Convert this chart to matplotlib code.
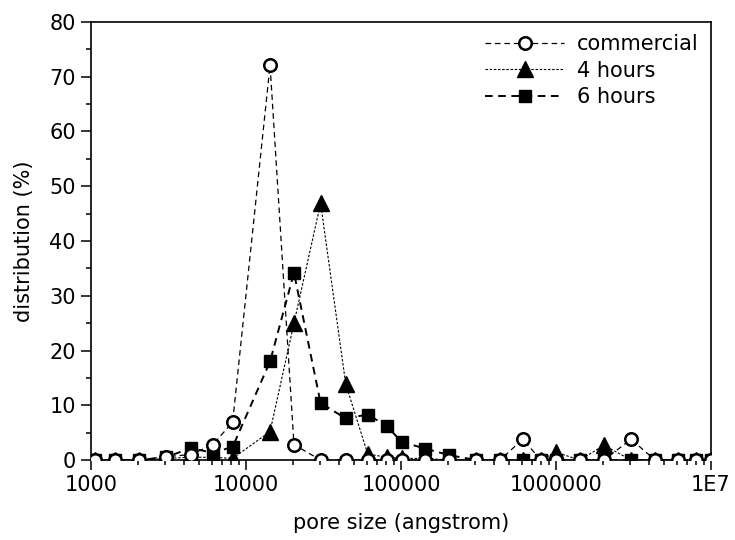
import numpy as np
import matplotlib
matplotlib.use("Agg")
import matplotlib.pyplot as plt
from matplotlib.ticker import FixedLocator, FixedFormatter, LogLocator, MultipleLocator

plt.rcParams['font.family'] = ['DejaVu Sans']
plt.rcParams['lines.scale_dashes'] = False

# pore size (angstrom)
pore_size = [1060, 1430, 2040, 3045, 4400, 6100, 8200, 14300, 20400, 30300,
             44000, 61000, 81000, 101000, 143000, 204000, 305000, 436000,
             610000, 800000, 1000000, 1430000, 2040000, 3050000, 4360000,
             6100000, 8000000, 10000000]

# distribution (%)
commercial = [0, 0, 0, 0.6, 1.0, 2.8, 6.9, 72.1, 2.8, 0,
              0, 0, 0, 0, 0, 0, 0, 0,
              3.8, 0, 0, 0, 0, 3.8, 0,
              0, 0, 0]
hours_4 = [0, 0, 0, 0.3, 0.5, 0.5, 0.3, 5.2, 25.0, 46.9,
           13.9, 1.1, 0.5, 0.3, 0.3, 0, 0, 0,
           0, 0, 1.4, 0, 2.7, 0, 0,
           0, 0, 0]
hours_6 = [0, 0, 0, 0.5, 2.2, 1.3, 2.4, 18.0, 34.2, 10.4,
           7.6, 8.3, 6.2, 3.3, 2.1, 0.9, 0, 0,
           0, 0, 0, 0, 0, 0, 0,
           0, 0, 0]

xtick_vals = [1e3, 1e4, 1e5, 1e6, 1e7]
xtick_labels = ['1000', '10000', '100000', '1000000', '1E7']

fig = plt.figure(figsize=(7.35, 5.4), dpi=100)
ax = fig.add_axes([0.1238, 0.1481, 0.8435, 0.8112])

l1, = ax.plot(pore_size, commercial, color='black', lw=0.9, dashes=(4, 2.8),
              marker='o', ms=9, mfc='white', mec='black', mew=1.8, zorder=5,
              label='commercial')
l2, = ax.plot(pore_size, hours_4, color='black', lw=0.8, dashes=(1.8, 1.2),
              marker='^', ms=11.5, mfc='black', mec='black', zorder=3,
              label='4 hours')
l3, = ax.plot(pore_size, hours_6, color='black', lw=1.4, dashes=(5.5, 4),
              marker='s', ms=9, mfc='black', mec='black', zorder=4,
              label='6 hours')

ax.set_xscale('log')
ax.set_xlim(1e3, 1e7)
ax.set_ylim(0, 80)
ax.xaxis.set_major_locator(FixedLocator(xtick_vals))
ax.xaxis.set_major_formatter(FixedFormatter(xtick_labels))
ax.xaxis.set_minor_locator(LogLocator(base=10, subs=np.arange(2, 10)))
ax.xaxis.set_minor_formatter(FixedFormatter([]))
ax.yaxis.set_major_locator(MultipleLocator(10))
ax.yaxis.set_minor_locator(MultipleLocator(5))

ax.tick_params(which='major', direction='out', length=7, width=1.1,
               labelsize=15, pad=4)
ax.tick_params(which='minor', direction='out', length=3.5, width=1.1)
for s in ax.spines.values():
    s.set_linewidth(1.2)

ax.set_xlabel('pore size (angstrom)', fontsize=15, labelpad=13)
ax.set_ylabel('distribution (%)', fontsize=15, labelpad=11)

ax.legend(handles=[l1, l2, l3], loc='upper right', frameon=False,
          fontsize=15, handlelength=3.8, handletextpad=0.6,
          labelspacing=0.3, borderaxespad=0.2, bbox_to_anchor=(1.0, 1.0))

fig.savefig('out.png', dpi=100)
